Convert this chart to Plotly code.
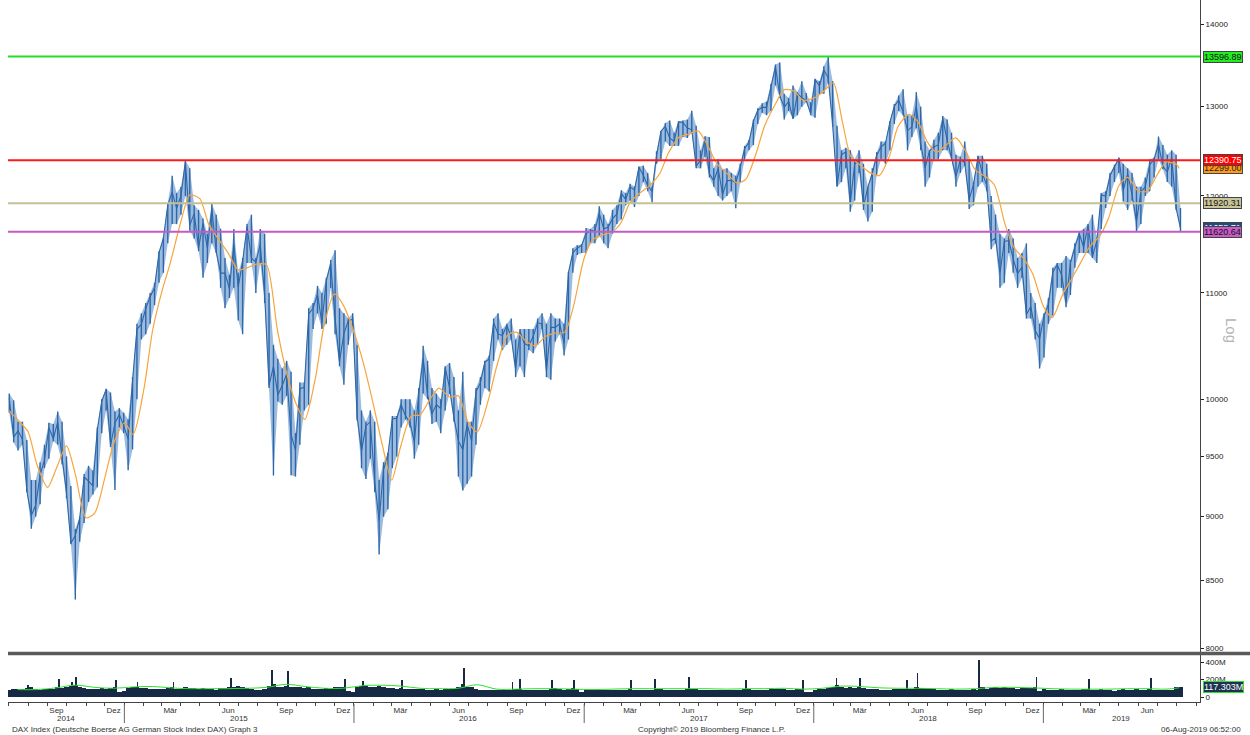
import numpy as np
import pandas as pd
import plotly.graph_objects as go
from plotly.subplots import make_subplots

# ---------------- weekly DAX bars (close / high / low), Jul 2014 .. Aug 2019
close_2014 = [10009, 9666, 9720, 9644, 9210, 9009, 9092, 9339, 9470, 9747, 9651, 9799, 9490, 9195, 8788, 8850,
              8988, 9326, 9291, 9252, 9732, 9980, 10087, 9594, 9787, 9865, 9764]
high_2014 = [10050, 9990, 9800, 9800, 9640, 9300, 9300, 9450, 9600, 9790, 9780, 9890, 9800, 9500, 9250, 8900,
             9000, 9350, 9420, 9380, 9750, 10000, 10093, 10060, 9890, 9920, 9880]
low_2014 = [9880, 9620, 9550, 9600, 9200, 8903, 9000, 9100, 9400, 9480, 9630, 9600, 9430, 9150, 8780, 8355,
            8800, 8950, 9120, 9180, 9240, 9700, 9900, 9580, 9218, 9750, 9700]

close_2015 = [9648, 10168, 10649, 10694, 10846, 10963, 11051, 11402, 11551, 11902, 12040, 11868,
              12003, 12375, 11689, 11811, 11454, 11709, 11447, 11865, 11413, 11197, 11197, 11041, 11492,
              11058, 11316, 11673, 11347, 11308, 11490, 10985, 10124, 10298, 10038, 10123, 10229, 9688,
              9553, 10096, 10104, 10795, 10850, 10988, 10708, 11119, 11293, 10752, 10340, 10608, 10728, 10743]
high_2015 = [9820, 10200, 10700, 10800, 10900, 11000, 11100, 11420, 11560, 11920, 12220, 12030,
             12100, 12391, 12300, 11900, 11850, 11760, 11600, 11920, 11800, 11650, 11350, 11180, 11650,
             11200, 11350, 11700, 11800, 11350, 11650, 11600, 11000, 10500, 10370, 10280, 10350, 10250,
             9700, 10150, 10150, 10850, 10900, 11070, 11000, 11150, 11330, 11430, 10850, 10800, 10750, 10800]
low_2015 = [9382, 9560, 10000, 10550, 10600, 10700, 10880, 11100, 11200, 11500, 11700, 11700,
            11800, 12000, 11630, 11550, 11420, 11150, 11300, 11500, 11400, 11050, 10850, 10950, 11050,
            10730, 10600, 11300, 11300, 11000, 11300, 10900, 10100, 9338, 9980, 9950, 10030, 9340,
            9330, 9600, 9900, 9950, 10650, 10800, 10650, 10700, 11050, 10600, 10300, 10130, 10500, 10650]

close_2016 = [9849, 9545, 9765, 9798, 9286, 8967, 9388, 9513, 9824, 9831, 9950, 9851,
              9794, 9622, 10051, 10373, 10039, 9870, 9952, 9917, 10287, 10103, 9834, 9631, 9557,
              9776, 9630, 10067, 10147, 10337, 10367, 10713, 10603, 10588, 10683, 10573, 10276, 10626, 10511,
              10490, 10580, 10711, 10696, 10259, 10668, 10664, 10699, 10513, 11203, 11404, 11450, 11481]
high_2016 = [10500, 9900, 9800, 9900, 9800, 9300, 9450, 9530, 9850, 9850, 10000, 10000,
             10000, 9900, 10100, 10490, 10350, 10100, 10050, 10000, 10300, 10330, 10200, 9900, 10250,
             9800, 9800, 10100, 10200, 10350, 10400, 10750, 10800, 10650, 10700, 10750, 10550, 10650, 10650,
             10650, 10650, 10750, 10800, 10700, 10800, 10750, 10750, 10700, 11210, 11450, 11480, 11490]
low_2016 = [9810, 9400, 9310, 9480, 9200, 8699, 9000, 9060, 9400, 9500, 9750, 9820,
            9750, 9480, 9600, 10050, 10000, 9780, 9800, 9700, 9900, 10050, 9800, 9330, 9214,
            9270, 9330, 9600, 9950, 10100, 10070, 10350, 10550, 10450, 10500, 10550, 10200, 10300, 10200,
            10450, 10420, 10500, 10650, 10200, 10175, 10530, 10600, 10400, 10550, 11200, 11380, 11400]

close_2017 = [11599, 11630, 11631, 11814, 11651, 11667, 11757, 11804, 12027, 11963, 12095, 12064, 12313,
              12225, 12109, 12049, 12438, 12717, 12771, 12638, 12602, 12823, 12816, 12753, 12733, 12325,
              12389, 12632, 12240, 12163, 12298, 12015, 12165, 12168, 12142, 12304, 12519, 12592, 12829,
              12956, 12992, 12991, 13218, 13479, 13127, 12994, 13060, 12861, 13153, 13104, 13073, 12918]
high_2017 = [11660, 11650, 11700, 11890, 11800, 11700, 11850, 11900, 12060, 12030, 12130, 12100, 12320,
             12330, 12250, 12100, 12490, 12720, 12810, 12840, 12700, 12830, 12840, 12850, 12952, 12780,
             12500, 12660, 12650, 12300, 12400, 12290, 12300, 12250, 12220, 12350, 12550, 12620, 12850,
             12980, 13040, 13060, 13270, 13500, 13526, 13150, 13100, 13250, 13170, 13300, 13160, 13050]
low_2017 = [11400, 11500, 11500, 11580, 11500, 11450, 11600, 11700, 11750, 11900, 11950, 11880, 12000,
            12150, 12050, 11930, 12350, 12400, 12600, 12550, 12550, 12550, 12650, 12640, 12700, 12300,
            12300, 12430, 12200, 12100, 12000, 11950, 12000, 12050, 11868, 12150, 12400, 12500, 12560,
            12800, 12930, 12900, 12950, 13250, 13100, 12850, 12950, 12860, 12900, 13000, 13050, 12900]

close_2018 = [13320, 13245, 13434, 13340, 12785, 12107, 12452, 12483, 11914, 12347, 12390, 11886, 12097,
              12241, 12442, 12540, 12580, 12820, 13001, 13077, 12938, 12724, 12767, 13011, 12580, 12306,
              12496, 12541, 12561, 12860, 12616, 12424, 12211, 12394, 12364, 11960, 12124, 12431, 12247,
              12111, 11524, 11554, 11201, 11519, 11529, 11341, 11193, 11257, 10788, 10866, 10634, 10559]
high_2018 = [13330, 13300, 13480, 13597, 13300, 12780, 12500, 12530, 12500, 12400, 12500, 12350, 12100,
             12300, 12480, 12600, 12600, 12830, 13030, 13130, 13205, 12900, 12900, 13170, 13000, 12600,
             12500, 12620, 12700, 12890, 12850, 12700, 12450, 12430, 12600, 12380, 12150, 12440, 12440,
             12350, 12000, 11800, 11600, 11550, 11650, 11550, 11350, 11400, 11500, 11000, 10900, 10700]
low_2018 = [12870, 13150, 13150, 13280, 12770, 12100, 12150, 12300, 11830, 11950, 12250, 11850, 11727,
            11830, 12230, 12400, 12350, 12500, 12800, 12950, 12900, 12500, 12650, 12750, 12500, 12100,
            12200, 12400, 12400, 12500, 12500, 12400, 12100, 12250, 12330, 11860, 11900, 12100, 12150,
            12050, 11440, 11500, 11050, 11100, 11400, 11200, 11050, 11150, 10750, 10750, 10550, 10279]

close_2019 = [10768, 10887, 11205, 11281, 11180, 10907, 11300, 11458, 11602, 11458, 11686, 11364, 11526,
              12010, 11999, 12222, 12315, 12413, 12060, 12239, 12012, 11727, 12045, 12096, 12340, 12399,
              12568, 12323, 12260, 12419, 11872, 11658]
high_2019 = [10800, 10950, 11250, 11300, 11300, 11370, 11330, 11500, 11620, 11650, 11700, 11800, 11560,
             12030, 12050, 12250, 12340, 12420, 12350, 12300, 12250, 12100, 12100, 12200, 12400, 12420,
             12656, 12560, 12450, 12500, 12450, 11870]
low_2019 = [10380, 10700, 10780, 11050, 11050, 10860, 10980, 11250, 11400, 11400, 11400, 11350, 11300,
            11650, 11870, 12000, 12150, 12250, 11940, 11850, 11950, 11620, 11700, 12000, 12050, 12200,
            12400, 12290, 12150, 12100, 11850, 11621]

# ---------------- moving average (orange), read on the 1st and 15th of each month
ma_2014 = [9900, 9820, 9710, 9430, 9240, 9400, 9590, 9350, 8990, 9030, 9320, 9610]
ma_2015 = [9790, 9690, 10090, 10640, 11000, 11300, 11730, 12010, 11970, 11700, 11530, 11400,
           11230, 11250, 11290, 11280, 10650, 10260, 9960, 9820, 10200, 10700, 10990, 10880]
ma_2016 = [10620, 10350, 9950, 9600, 9300, 9580, 9850, 9860, 10000, 10100, 10020, 10030,
           9790, 9710, 9980, 10300, 10590, 10620, 10530, 10490, 10580, 10610, 10620, 10870]
ma_2017 = [11350, 11540, 11590, 11620, 11720, 11930, 12040, 12110, 12240, 12470, 12650, 12680,
           12720, 12570, 12340, 12250, 12140, 12180, 12460, 12780, 13030, 13200, 13180, 13075]
ma_2018 = [13100, 13170, 13280, 12840, 12430, 12340, 12250, 12220, 12430, 12770, 12910, 12830,
           12590, 12480, 12570, 12640, 12470, 12280, 12210, 12120, 11700, 11460, 11340, 11190]
ma_2019 = [10870, 10760, 10990, 11140, 11300, 11460, 11580, 11770, 12110, 12200, 12050, 12050,
           12230, 12370, 12340, 12299]

# ---------------- reference lines and last-value tags
level_values = [13596.89, 12390.75, 11920.31, 11620.64]
level_colors = ["#22e022", "#ff1a1a", "#c4c196", "#c45ac4"]
tag_values = [12299.00, 13596.89, 12390.75, 11920.31, 11658.71, 11620.64]
tag_bg = ["#ff9a1a", "#22ee22", "#ff0000", "#c9c59b", "#1f4f82", "#c85cc8"]
tag_fg = ["#222222", "#111111", "#ffffff", "#111111", "#ffffff", "#111111"]

# ---------------- volume (millions): weekly base, daily spikes, monthly average
vol_2014 = [85, 90, 88, 92, 100, 110, 95, 85, 88, 95, 92, 110, 100, 115, 125, 140, 115, 100, 95, 90,
            95, 100, 95, 105, 110, 60, 70]
vol_2015 = [100, 115, 120, 105, 100, 95, 90, 95, 95, 105, 115, 95, 90, 110, 105, 100, 95, 100, 95, 90,
            85, 100, 105, 110, 115, 130, 110, 105, 95, 85, 85, 95, 130, 150, 120, 110, 125, 120, 115, 110,
            100, 115, 95, 90, 95, 100, 90, 110, 115, 110, 65, 60]
vol_2016 = [120, 125, 130, 120, 115, 125, 110, 105, 100, 95, 105, 90, 90, 95, 95, 90, 85, 85, 90, 85,
            90, 90, 95, 110, 150, 120, 110, 95, 85, 85, 80, 80, 75, 75, 80, 85, 90, 95, 85, 85,
            85, 80, 85, 80, 95, 100, 90, 85, 90, 100, 95, 60]
vol_2017 = [75, 80, 80, 85, 85, 80, 80, 80, 85, 85, 95, 85, 85, 80, 75, 80, 95, 90, 85, 85,
            80, 85, 85, 95, 90, 90, 80, 85, 85, 80, 80, 75, 75, 80, 85, 85, 90, 95, 85, 80,
            85, 80, 90, 90, 90, 90, 85, 85, 95, 90, 60, 55]
vol_2018 = [85, 90, 90, 100, 120, 135, 110, 100, 110, 105, 115, 100, 95, 95, 90, 85, 85, 85, 90, 95,
            90, 95, 90, 110, 105, 100, 95, 90, 85, 85, 85, 90, 85, 80, 75, 85, 90, 85, 110, 95,
            100, 115, 105, 115, 105, 100, 95, 100, 100, 105, 110, 70]
vol_2019 = [90, 85, 85, 85, 90, 85, 80, 80, 85, 90, 95, 85, 85, 90, 80, 75, 70, 85, 95, 80,
            85, 90, 80, 85, 90, 85, 80, 80, 85, 85, 110, 117.303]
spike_dates = ["2014-08-01", "2014-09-19", "2014-10-10", "2014-10-16", "2014-12-19", "2015-01-22",
               "2015-03-20", "2015-06-19", "2015-08-24", "2015-09-18", "2015-12-18", "2016-01-15",
               "2016-03-18", "2016-06-24", "2016-09-09", "2016-09-21", "2016-11-11", "2016-12-16",
               "2017-03-17", "2017-04-24", "2017-06-16", "2017-09-15", "2017-12-15", "2018-02-06",
               "2018-03-16", "2018-05-29", "2018-06-15", "2018-09-21", "2018-12-21", "2019-03-15",
               "2019-06-21"]
spike_vals = [140, 205, 170, 230, 195, 170, 175, 215, 310, 300, 205, 180, 195, 330, 170, 210, 195, 195,
              200, 205, 230, 200, 195, 215, 215, 195, 275, 420, 230, 205, 215]
vol_avg = [85, 85, 105, 135, 110, 100,
           115, 120, 105, 95, 95, 95, 100, 110, 145, 120, 100, 100,
           130, 135, 125, 100, 95, 100, 140, 90, 90, 95, 95, 90,
           85, 90, 95, 95, 95, 95, 95, 90, 95, 95, 100, 90,
           100, 125, 120, 105, 100, 100, 95, 90, 95, 110, 110, 105,
           95, 90, 90, 90, 95, 95, 90, 105]

# ---------------- axis text
month_names = {3: "Mär", 6: "Jun", 9: "Sep", 12: "Dez"}
years = ["2014", "2015", "2016", "2017", "2018", "2019"]
year_centers = ["2014-09-30", "2015-07-02", "2016-07-01", "2017-07-02", "2018-07-02", "2019-05-05"]
year_starts = ["2015-01-01", "2016-01-01", "2017-01-01", "2018-01-01", "2019-01-01"]
price_ticks = [8000, 8500, 9000, 9500, 10000, 11000, 12000, 13000, 14000]
x_range = ["2014-06-30", "2019-09-07"]

# ---------------- assemble
wk_close = close_2014 + close_2015 + close_2016 + close_2017 + close_2018 + close_2019
wk_high = high_2014 + high_2015 + high_2016 + high_2017 + high_2018 + high_2019
wk_low = low_2014 + low_2015 + low_2016 + low_2017 + low_2018 + low_2019
wk_dates = pd.date_range("2014-07-02", periods=len(wk_close), freq="7D")
wk_vol = vol_2014 + vol_2015 + vol_2016 + vol_2017 + vol_2018 + vol_2019

bar_x, bar_y = [], []
for d, lo, hi in zip(wk_dates, wk_low, wk_high):
    bar_x += [d, d, None]
    bar_y += [lo, hi, None]

ma_vals = ma_2014 + ma_2015 + ma_2016 + ma_2017 + ma_2018 + ma_2019
ma_dates = []
for y in range(2014, 2020):
    for m in range(1, 13):
        for d in (1, 15):
            t = pd.Timestamp(y, m, d)
            if pd.Timestamp("2014-07-01") <= t <= pd.Timestamp("2019-08-01"):
                ma_dates.append(t)
ma_dates.append(pd.Timestamp("2019-08-05"))
n_ma = min(len(ma_dates), len(ma_vals))

va_dates = list(pd.date_range("2014-07-01", periods=len(vol_avg), freq="MS") + pd.Timedelta(days=14))
va_dates[-1] = pd.Timestamp("2019-08-05")

DAY = 86400000
BAR_DARK = "#2c67a8"
BAR_LIGHT = "#9dbbdf"

fig = make_subplots(rows=2, cols=1, shared_xaxes=True, vertical_spacing=0)

# light range band (weekly low .. high)
fig.add_trace(go.Scatter(x=wk_dates, y=wk_low, mode="lines", line=dict(width=0, color=BAR_LIGHT),
                         hoverinfo="skip"), row=1, col=1)
fig.add_trace(go.Scatter(x=wk_dates, y=wk_high, mode="lines", line=dict(width=0, color=BAR_LIGHT),
                         fill="tonexty", fillcolor=BAR_LIGHT, hoverinfo="skip"), row=1, col=1)
# dark weekly high-low bars and closing line
fig.add_trace(go.Scatter(x=bar_x, y=bar_y, mode="lines", line=dict(color=BAR_DARK, width=1.4),
                         connectgaps=False, hoverinfo="skip"), row=1, col=1)
fig.add_trace(go.Scatter(x=wk_dates, y=wk_close, mode="lines", line=dict(color=BAR_DARK, width=1.1),
                         hoverinfo="skip"), row=1, col=1)

fig.add_trace(go.Scatter(x=ma_dates[:n_ma], y=ma_vals[:n_ma], mode="lines",
                         line=dict(color="#f7a53c", width=1.2, shape="spline", smoothing=0.7),
                         hoverinfo="skip"), row=1, col=1)

for v, c in zip(level_values, level_colors):
    fig.add_trace(go.Scatter(x=x_range, y=[v, v], mode="lines", line=dict(color=c, width=2),
                             hoverinfo="skip"), row=1, col=1)

fig.add_trace(go.Bar(x=wk_dates, y=wk_vol, width=7 * DAY, marker=dict(color="#172a45", line=dict(width=0)),
                     hoverinfo="skip"), row=2, col=1)
fig.add_trace(go.Bar(x=pd.to_datetime(spike_dates), y=spike_vals, width=1.3 * DAY,
                     marker=dict(color="#172a45", line=dict(width=0)), hoverinfo="skip"), row=2, col=1)
fig.add_trace(go.Scatter(x=va_dates, y=vol_avg, mode="lines",
                         line=dict(color="#2ee02e", width=1, shape="spline"), hoverinfo="skip"), row=2, col=1)

FONT = "Liberation Sans, Arial, sans-serif"
PH = 702.0


def py(ypx):
    return (PH - ypx) / PH


def px_(xpx):
    return (xpx - 8) / 1192.0


tickvals_m, ticktext_m = [], []
for y in range(2014, 2020):
    for m in (3, 6, 9, 12):
        t = pd.Timestamp(y, m, 15)
        if pd.Timestamp(x_range[0]) < t < pd.Timestamp(x_range[1]):
            tickvals_m.append(t)
            ticktext_m.append(month_names[m])

fig.update_layout(
    width=1250, height=735, margin=dict(l=8, r=50, t=0, b=33),
    paper_bgcolor="white", plot_bgcolor="white", showlegend=False,
    font=dict(family=FONT, size=8, color="#333333"),
    barmode="overlay", bargap=0,
)
fig.update_xaxes(rangeslider_visible=False, range=x_range, showgrid=False, zeroline=False)
fig.update_layout(
    xaxis=dict(showticklabels=False, showline=False, ticks=""),
    xaxis2=dict(type="date", showline=True, linecolor="#444444", linewidth=1,
                tickmode="array", tickvals=tickvals_m, ticktext=ticktext_m, ticks="",
                tickfont=dict(size=8, color="#333333"),
                minor=dict(ticks="outside", ticklen=3, tickcolor="#444444", dtick="M1",
                           tick0="2014-07-01", showgrid=False)),
    yaxis=dict(type="log", side="right", domain=[py(652), 1.0],
               range=[np.log10(8000) - 4 * 0.0003895, np.log10(14000) + 24 * 0.0003895],
               tickmode="array", tickvals=price_ticks, ticktext=[str(t) for t in price_ticks],
               ticks="outside", ticklen=3, tickcolor="#222222", showline=True, linecolor="#444444",
               linewidth=1, showgrid=False, zeroline=False, tickfont=dict(size=8, color="#222222")),
    yaxis2=dict(side="right", domain=[0, py(655)], range=[-57, 480],
                tickmode="array", tickvals=[0, 200, 400], ticktext=["0", "200M", "400M"],
                ticks="outside", ticklen=3, tickcolor="#222222", showline=True, linecolor="#444444",
                linewidth=1, showgrid=False, zeroline=False, tickfont=dict(size=8, color="#222222")),
)

shapes = [dict(type="line", xref="paper", yref="paper", x0=0, x1=px_(1250), y0=py(653.5), y1=py(653.5),
               line=dict(color="#5a5a5a", width=3.5))]
for ys in year_starts:
    shapes.append(dict(type="line", xref="x2", yref="paper", x0=ys, x1=ys, y0=py(704), y1=py(723),
                       line=dict(color="#666666", width=1)))
fig.update_layout(shapes=shapes)

ann = []
for t, c in zip(years, year_centers):
    ann.append(dict(x=c, xref="x2", y=py(718), yref="paper", text=t, showarrow=False,
                    font=dict(size=8, color="#333333"), xanchor="center", yanchor="middle"))
for v, bg, fg in zip(tag_values, tag_bg, tag_fg):
    ann.append(dict(x=1.0, xref="paper", y=np.log10(v), yref="y", text="%.2f" % v, showarrow=False,
                    xanchor="left", yanchor="middle", xshift=3, bgcolor=bg, bordercolor="#444444",
                    borderwidth=1, borderpad=0, font=dict(size=9, color=fg, family=FONT)))
ann.append(dict(x=1.0, xref="paper", y=wk_vol[-1], yref="y2", text="%.3fM" % wk_vol[-1], showarrow=False,
                xanchor="left", yanchor="middle", xshift=3, bgcolor="#1d3450", bordercolor="#2ee02e",
                borderwidth=1, borderpad=0, font=dict(size=9, color="#ffffff", family=FONT)))
ann.append(dict(x=px_(1232), xref="paper", y=py(330), yref="paper", text="Log", showarrow=False,
                textangle=90, font=dict(size=15, color="#b4b4b4"), xanchor="center", yanchor="middle"))
ann.append(dict(x=px_(10), xref="paper", y=py(729), yref="paper", xanchor="left", yanchor="middle",
                text="DAX Index (Deutsche Boerse AG German Stock Index DAX) Graph 3", showarrow=False,
                font=dict(size=8, color="#333333")))
ann.append(dict(x=px_(711), xref="paper", y=py(729), yref="paper", xanchor="center", yanchor="middle",
                text="Copyright© 2019 Bloomberg Finance L.P.", showarrow=False,
                font=dict(size=8, color="#333333")))
ann.append(dict(x=px_(1243), xref="paper", y=py(729), yref="paper", xanchor="right", yanchor="middle",
                text="06-Aug-2019 06:52:00", showarrow=False, font=dict(size=8, color="#333333")))
fig.update_layout(annotations=ann)

fig.write_html("out.html", config={"displayModeBar": False},
               post_script="document.body.style.margin='0';document.body.style.overflow='hidden';")
